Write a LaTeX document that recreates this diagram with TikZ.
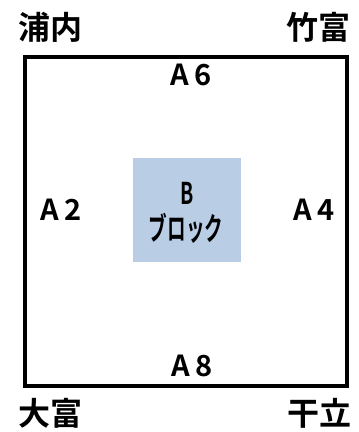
\documentclass[tikz,border=0pt]{standalone}
\usepackage{fontspec}
\setmainfont{Noto Sans CJK JP}[BoldFont=* Bold]
\definecolor{boxblue}{HTML}{B9CDE5}
\newcommand{\alab}[2]{#1\hspace{6pt}#2}
\begin{document}
\begin{tikzpicture}[x=1pt,y=-1pt,
  place/.style={font=\fontsize{32}{32}\selectfont\bfseries, inner sep=0pt},
  alabel/.style={font=\fontsize{29}{29}\selectfont\bfseries, inner sep=0pt},
  blk/.style={font=\fontsize{30}{30}\selectfont\bfseries, inner sep=0pt}]
\useasboundingbox (0,0) rectangle (359,432);
\draw[line width=4pt] (25,57) rectangle (346.5,386);
\node[fill=boxblue, minimum width=108pt, minimum height=104pt, inner sep=0pt] (blue) at (187,210) {};
\node[blk] (b) at (187,193) {\scalebox{0.65}[1]{B}};
\node[blk] (blok) at (186,228) {\scalebox{0.62}[1.05]{ブロック}};
\node[place] (urauchi) at (51,27) {浦内};
\node[place] (taketomi) at (318,27) {竹富};
\node[place] (otomi) at (51,413) {大富};
\node[place] (hoshitate) at (319,413) {干立};
\node[alabel] (a6) at (191,75) {\alab{A}{6}};
\node[alabel] (a2) at (61,210) {\alab{A}{2}};
\node[alabel] (a4) at (314,210) {\alab{A}{4}};
\node[alabel] (a8) at (192,366) {\alab{A}{8}};
\end{tikzpicture}
\end{document}
